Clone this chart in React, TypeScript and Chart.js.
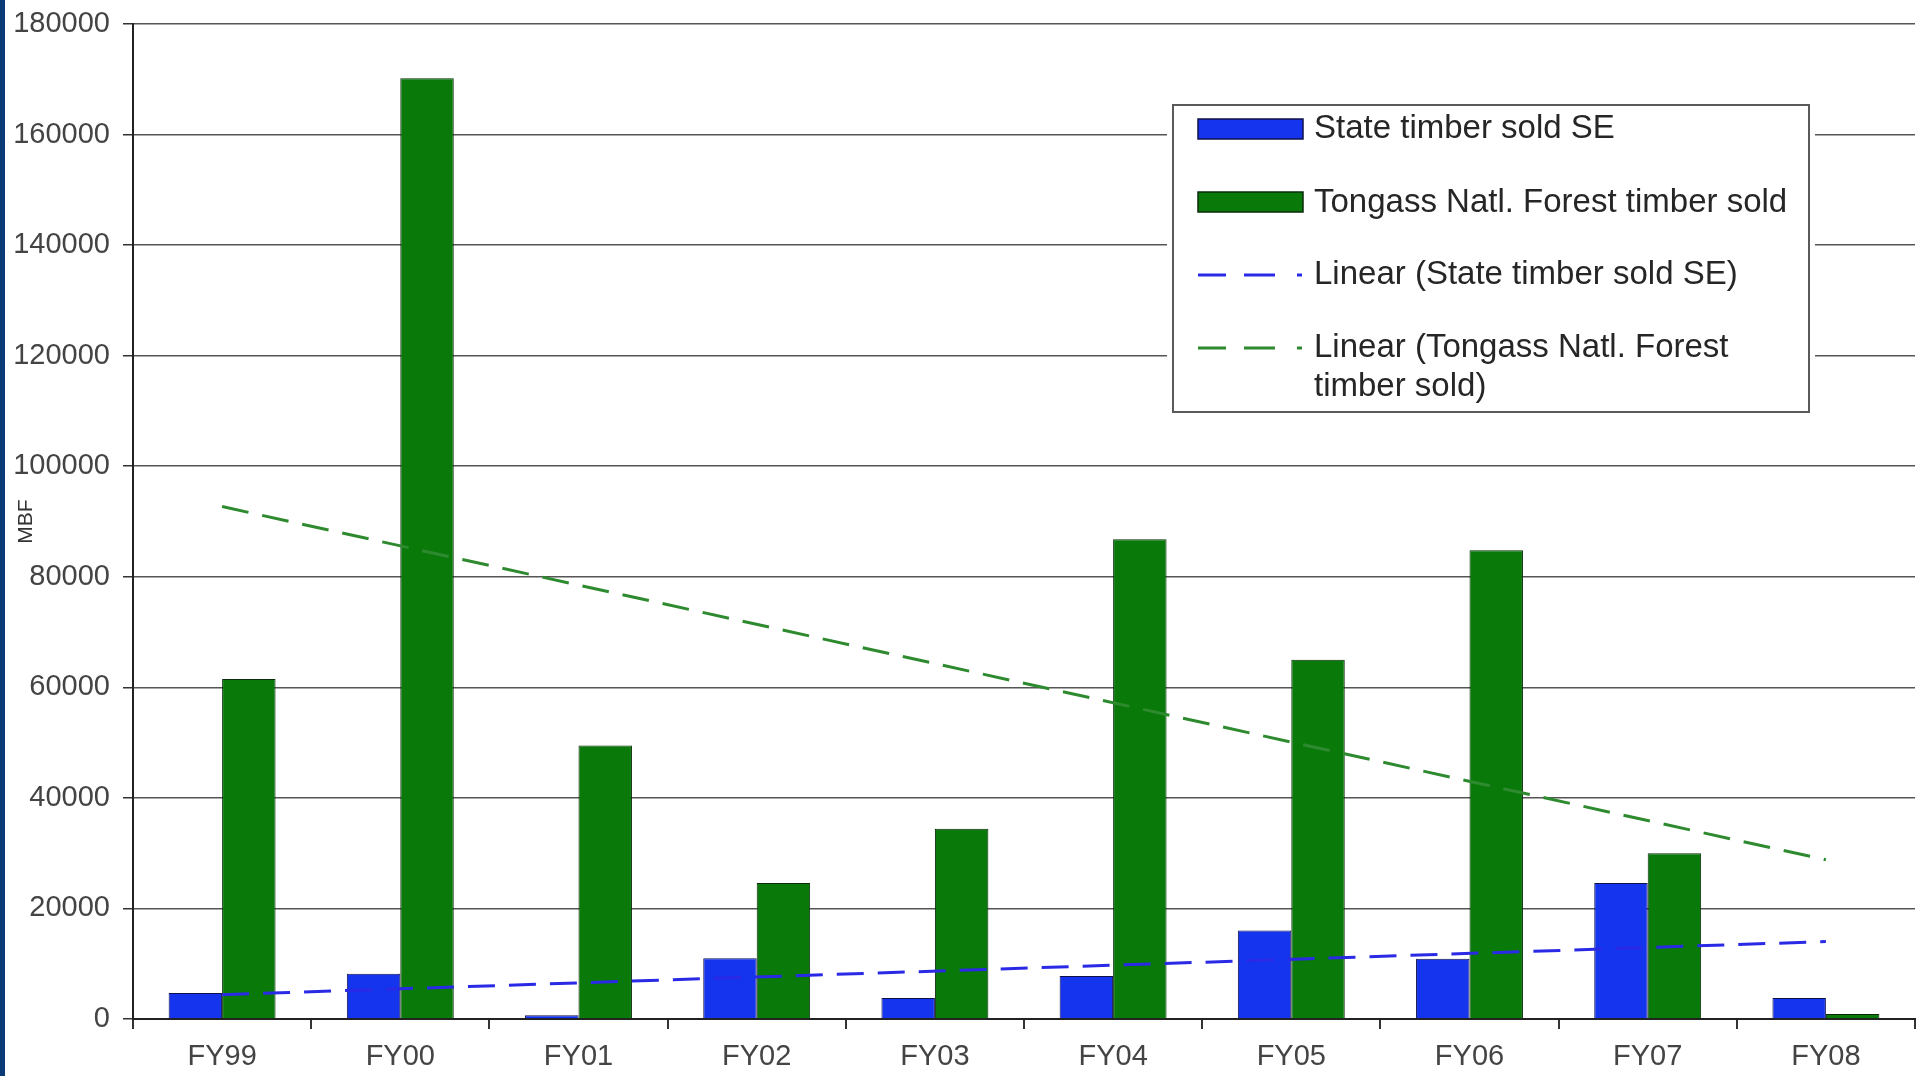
import React, { useEffect, useRef } from "react";
import { Chart, registerables } from "chart.js";

Chart.register(...registerables);

const categories = ["FY99", "FY00", "FY01", "FY02", "FY03", "FY04", "FY05", "FY06", "FY07", "FY08"];
const stateSold = [4700, 8200, 700, 11000, 3800, 7800, 16000, 10900, 24600, 3800];
const tongassSold = [61500, 170200, 49500, 24600, 34400, 86800, 65000, 84800, 30000, 900];
// trend lines (Excel linear trendline), read at first and last category
const stateTrend = [4400, null, null, null, null, null, null, null, null, 14000];
const tongassTrend = [92700, null, null, null, null, null, null, null, null, 28800];
const seriesLabels = [
  "State timber sold SE",
  "Tongass Natl. Forest timber sold",
  "Linear (State timber sold SE)",
  "Linear (Tongass Natl. Forest timber sold)",
];
const yTitle = "MBF";

const FONT = "'Liberation Sans', Arial, sans-serif";
const BLUE = "#1434ee";
const GREEN = "#097a0a";
const BLUE_TREND = "#2a2ae6";
const GREEN_TREND = "#2e8a2e";

const bgPlugin = {
  id: "bgPlugin",
  beforeDraw(chart: any) {
    const ctx = chart.ctx;
    ctx.save();
    ctx.fillStyle = "#ffffff";
    ctx.fillRect(0, 0, chart.width, chart.height);
    ctx.fillStyle = "#0b3a78";
    ctx.fillRect(0, 0, 5, chart.height);
    ctx.restore();
  },
};

const legendPlugin = {
  id: "customLegend",
  afterDraw(chart: any) {
    const ctx = chart.ctx;
    ctx.save();
    const bx = 1173, by = 105, bw = 636, bh = 307;
    ctx.fillStyle = "#ffffff";
    ctx.fillRect(bx - 6, by - 6, bw + 12, bh + 12);
    ctx.strokeStyle = "#5a5a5a";
    ctx.lineWidth = 2;
    ctx.strokeRect(bx, by, bw, bh);

    ctx.font = `33px ${FONT}`;
    ctx.fillStyle = "#262626";
    ctx.textBaseline = "middle";
    ctx.textAlign = "left";
    const tx = 1314;

    // item 1
    ctx.fillStyle = BLUE;
    ctx.fillRect(1198, 119, 105, 20);
    ctx.strokeStyle = "#10104a";
    ctx.lineWidth = 1.5;
    ctx.strokeRect(1198, 119, 105, 20);
    ctx.fillStyle = "#262626";
    ctx.fillText(seriesLabels[0], tx, 129);

    // item 2
    ctx.fillStyle = GREEN;
    ctx.fillRect(1198, 192, 105, 20);
    ctx.strokeStyle = "#0a2a0a";
    ctx.strokeRect(1198, 192, 105, 20);
    ctx.fillStyle = "#262626";
    ctx.fillText(seriesLabels[1], tx, 203);

    const dashed = (y: number, color: string) => {
      ctx.strokeStyle = color;
      ctx.lineWidth = 3;
      ctx.setLineDash([]);
      ctx.beginPath();
      ctx.moveTo(1198, y); ctx.lineTo(1226, y);
      ctx.moveTo(1244, y); ctx.lineTo(1275, y);
      ctx.moveTo(1297, y); ctx.lineTo(1302, y);
      ctx.stroke();
    };
    dashed(275, BLUE_TREND);
    ctx.fillText(seriesLabels[2], tx, 275);

    dashed(348, GREEN_TREND);
    ctx.fillText("Linear (Tongass Natl. Forest", tx, 348);
    ctx.fillText("timber sold)", tx, 387);
    ctx.restore();
  },
};

export default function App() {
  const ref = useRef<HTMLCanvasElement | null>(null);
  useEffect(() => {
    if (!ref.current) return;
    const chart = new Chart(ref.current, {
      type: "bar",
      data: {
        labels: categories,
        datasets: [
          {
            type: "line",
            label: seriesLabels[2],
            data: stateTrend,
            borderColor: BLUE_TREND,
            borderWidth: 3,
            borderDash: [27, 14],
            pointRadius: 0,
            spanGaps: true,
            fill: false,
            order: 0,
          } as any,
          {
            type: "line",
            label: seriesLabels[3],
            data: tongassTrend,
            borderColor: GREEN_TREND,
            borderWidth: 3,
            borderDash: [27, 14],
            pointRadius: 0,
            spanGaps: true,
            fill: false,
            order: 0,
          } as any,
          {
            type: "bar",
            label: seriesLabels[0],
            data: stateSold,
            backgroundColor: BLUE,
            borderColor: "#10104a",
            borderWidth: 1,
            categoryPercentage: 0.6,
            barPercentage: 1.0,
            order: 1,
          },
          {
            type: "bar",
            label: seriesLabels[1],
            data: tongassSold,
            backgroundColor: GREEN,
            borderColor: "#0a2a0a",
            borderWidth: 1,
            categoryPercentage: 0.6,
            barPercentage: 1.0,
            order: 1,
          },
        ],
      },
      options: {
        animation: false,
        responsive: true,
        maintainAspectRatio: false,
        layout: { padding: { top: 24, right: 6, left: 0, bottom: 0 } },
        plugins: {
          legend: { display: false },
          tooltip: { enabled: false },
          title: { display: false },
        },
        scales: {
          x: {
            grid: {
              offset: true,
              drawOnChartArea: false,
              drawTicks: true,
              tickLength: 10,
              color: "#333333",
              lineWidth: 2,
            },
            border: { color: "#222222", width: 2 },
            ticks: {
              font: { family: FONT, size: 29 },
              color: "#444444",
              padding: 11,
              maxRotation: 0,
            },
            afterFit: (s: any) => {
              s.height = 57;
            },
          },
          y: {
            min: 0,
            max: 180000,
            ticks: {
              stepSize: 20000,
              font: { family: FONT, size: 29 },
              color: "#444444",
              padding: 13,
              callback: (v: any) => String(v),
            },
            grid: {
              color: "#555555",
              lineWidth: 1.5,
              tickLength: 10,
              tickColor: "#333333",
            },
            border: { color: "#222222", width: 2 },
            title: {
              display: true,
              text: yTitle,
              font: { family: FONT, size: 21 },
              color: "#333333",
              padding: { top: 14, bottom: 0 },
            },
            afterFit: (s: any) => {
              s.width = 133;
              s.paddingTop = 0;
              s.paddingBottom = 0;
            },
          },
        },
      },
      plugins: [bgPlugin, legendPlugin],
    });
    return () => chart.destroy();
  }, []);

  return (
    <div style={{ position: "fixed", left: 0, top: 0, width: "100vw", height: "100vh", background: "#fff" }}>
      <canvas ref={ref} />
    </div>
  );
}
